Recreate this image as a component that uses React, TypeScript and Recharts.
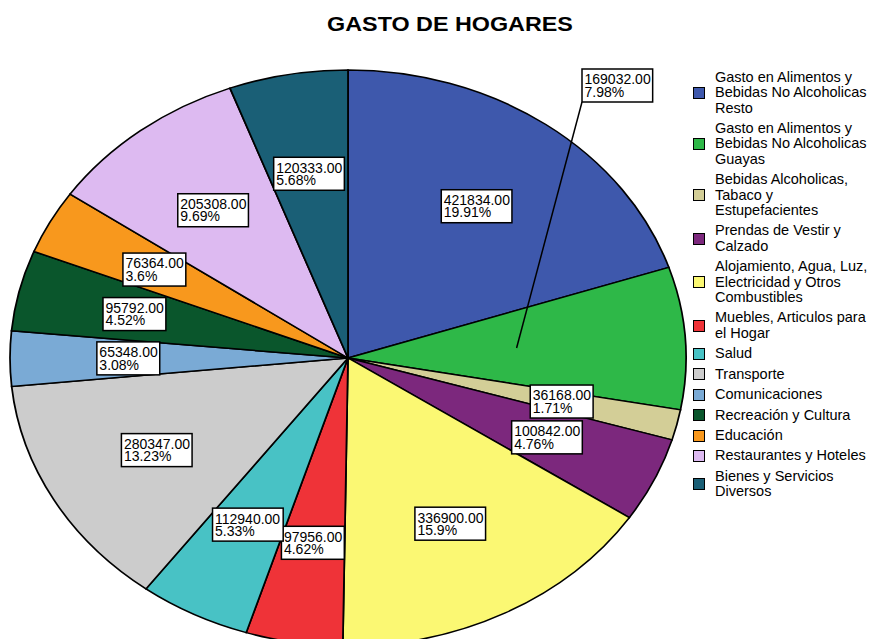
import React from 'react';
import { PieChart, Pie, Cell, Legend } from 'recharts';

const categories: string[] = [
  'Gasto en Alimentos y\nBebidas No Alcoholicas\nResto',
  'Gasto en Alimentos y\nBebidas No Alcoholicas\nGuayas',
  'Bebidas Alcoholicas,\nTabaco y\nEstupefacientes',
  'Prendas de Vestir y\nCalzado',
  'Alojamiento, Agua, Luz,\nElectricidad y Otros\nCombustibles',
  'Muebles, Articulos para\nel Hogar',
  'Salud',
  'Transporte',
  'Comunicaciones',
  'Recreación y Cultura',
  'Educación',
  'Restaurantes y Hoteles',
  'Bienes y Servicios\nDiversos',
];

const values: number[] = [
  421834, 169032, 36168, 100842, 336900, 97956, 112940, 280347, 65348, 95792, 76364, 205308, 120333,
];

const colors: string[] = [
  '#3E58AC', '#2EB848', '#D3CE97', '#7C287D', '#FBF873', '#EF3338', '#48C2C5',
  '#CCCCCC', '#7AAAD5', '#0A562C', '#F8981D', '#DDBAF1', '#1A5F76',
];

const title = 'GASTO DE HOGARES';

const W = 883;
const H = 639;
const CX = 348;
const CY = 358;
const R = 288;
const SX = 338 / 288;

const data = categories.map((c, i) => ({ name: c.replace(/\n/g, ' '), value: values[i] }));
const total = values.reduce((a, b) => a + b, 0);

const FONT = '"Liberation Sans", Arial, Helvetica, sans-serif';
const LABEL_FS = 14;
const charW = (ch: string) => (ch === '.' ? 0.278 : ch === '%' ? 0.889 : 0.556);
const textW = (s: string) => s.split('').reduce((a, c) => a + charW(c), 0) * LABEL_FS;

const renderLabel = (props: any) => {
  const { cx, cy, midAngle, outerRadius, value, index } = props;
  const rad = (midAngle * Math.PI) / 180;
  const l1 = Number(value).toFixed(2);
  const l2 = `${parseFloat(((Number(value) / total) * 100).toFixed(2))}%`;
  const w = Math.max(textW(l1), textW(l2)) + 4.5;
  const h = 33;
  let bx: number;
  let by: number;
  let line: any = null;
  if (index === 1) {
    const ax = cx + 0.5 * outerRadius * SX * Math.cos(rad);
    const ay = cy - 0.5 * outerRadius * Math.sin(rad);
    bx = cx + 234;
    by = cy - 289;
    line = <line x1={ax} y1={ay} x2={bx} y2={by + h} stroke="#000" strokeWidth={1.5} />;
  } else {
    const px = cx + 0.65 * outerRadius * SX * Math.cos(rad);
    const py = cy - 0.65 * outerRadius * Math.sin(rad);
    bx = px - w / 2;
    by = py - h / 2;
  }
  return (
    <g key={`lbl-${index}`}>
      {line}
      <rect x={bx} y={by} width={w} height={h} fill="#fff" stroke="#000" strokeWidth={1.5} />
      <text x={bx + 2.5} y={by + 15.4} fontFamily={FONT} fontSize={LABEL_FS} fill="#000">
        <tspan x={bx + 2.5} y={by + 15.4}>{l1}</tspan>
        <tspan x={bx + 2.5} y={by + 27.7}>{l2}</tspan>
      </text>
    </g>
  );
};

const renderLegend = (props: any) => {
  const payload: any[] = props.payload || [];
  return (
    <div style={{ fontFamily: FONT, fontSize: 14.5, lineHeight: '15.4px', color: '#000' }}>
      {payload.map((p: any, i: number) => (
        <div key={i} style={{ display: 'flex', alignItems: 'center', marginBottom: 5 }}>
          <div
            style={{
              width: 12,
              height: 12,
              boxSizing: 'border-box',
              border: '1.5px solid #000',
              background: colors[i],
              marginRight: 10,
              flexShrink: 0,
            }}
          />
          <div style={{ whiteSpace: 'pre-line' }}>{categories[i]}</div>
        </div>
      ))}
    </div>
  );
};

export default function App() {
  return (
    <div
      style={{
        position: 'absolute',
        left: 0,
        top: 0,
        width: W,
        height: H,
        overflow: 'hidden',
        background: '#fff',
      }}
    >
      <div
        style={{
          position: 'absolute',
          left: 0,
          top: 0,
          width: W,
          height: H,
          transform: `scaleX(${SX})`,
          transformOrigin: `${CX}px ${CY}px`,
        }}
      >
        <PieChart width={W} height={H} margin={{ top: 0, right: 0, bottom: 0, left: 0 }}>
          <Pie
            data={data}
            dataKey="value"
            nameKey="name"
            cx={CX}
            cy={CY}
            outerRadius={R}
            startAngle={90}
            endAngle={-270}
            stroke="#000"
            strokeWidth={1.5}
            isAnimationActive={false}
            labelLine={false}
          >
            {data.map((_, i) => (
              <Cell key={i} fill={colors[i]} />
            ))}
          </Pie>
        </PieChart>
      </div>
      <div style={{ position: 'absolute', left: 0, top: 0, width: W, height: H }}>
        <PieChart width={W} height={H} margin={{ top: 0, right: 0, bottom: 0, left: 0 }}>
          <Pie
            data={data}
            dataKey="value"
            nameKey="name"
            cx={CX}
            cy={CY}
            outerRadius={R}
            startAngle={90}
            endAngle={-270}
            stroke="none"
            isAnimationActive={false}
            labelLine={false}
            label={renderLabel}
          >
            {data.map((_, i) => (
              <Cell key={i} fill={colors[i]} fillOpacity={0} />
            ))}
          </Pie>
          <Legend
            layout="vertical"
            align="right"
            verticalAlign="top"
            content={renderLegend}
            wrapperStyle={{ position: 'absolute', left: 693, top: 69.8, width: 190 }}
          />
        </PieChart>
      </div>
      <div
        style={{
          position: 'absolute',
          left: 300,
          top: 13.8,
          width: 300,
          textAlign: 'center',
          fontFamily: FONT,
          fontWeight: 'bold',
          fontSize: 20,
          lineHeight: '20px',
          color: '#000',
          transform: 'scaleX(1.166)',
          transformOrigin: '150px 0px',
        }}
      >
        {title}
      </div>
    </div>
  );
}
